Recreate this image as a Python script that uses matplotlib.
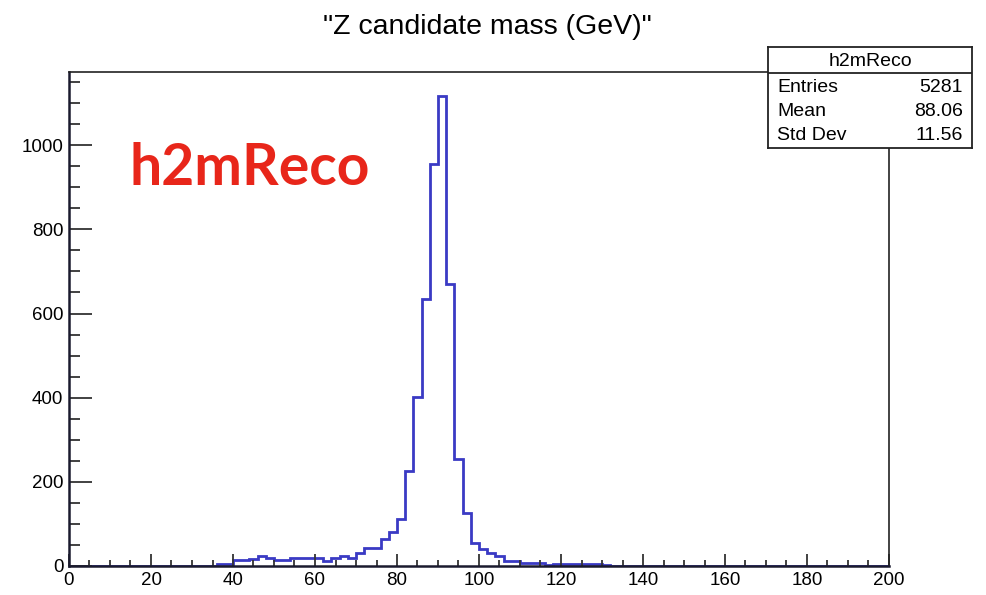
import numpy as np
import matplotlib.pyplot as plt

# bin edges: 100 bins of width 2 GeV from 0 to 200
edges = np.linspace(0, 200, 101)

# counts per bin (bins 36..134 GeV), everything else is empty
first_bin = 18
counts_nonzero = [
    5, 5, 14, 14, 16, 24, 20, 15, 15, 18,
    18, 18, 18, 13, 19, 24, 19, 32, 42, 42,
    64, 80, 111, 225, 402, 634, 955, 1118, 669, 255,
    125, 55, 40, 31, 24, 12, 12, 6, 8, 8,
    3, 5, 5, 4, 5, 5, 4, 2,
]
counts = np.zeros(100)
counts[first_bin:first_bin + len(counts_nonzero)] = counts_nonzero

title = '"Z candidate mass (GeV)"'
hist_name = "h2mReco"
stat_labels = ["Entries", "Mean", "Std Dev"]
stat_values = ["5281", "88.06", "11.56"]

plt.rcParams["font.family"] = ["Liberation Sans", "DejaVu Sans"]

fig = plt.figure(figsize=(9.87, 5.95), dpi=100)
ax = fig.add_axes([69 / 987, 1 - 566 / 595, 820 / 987, 494 / 595])

ax.stairs(counts, edges, color="#3a3ac4", linewidth=2.0)

ax.set_xlim(0, 200)
ax.set_ylim(0, 1.05 * counts.max())
ax.set_xticks(np.arange(0, 201, 20))
ax.set_xticks(np.arange(0, 201, 5), minor=True)
ax.set_yticks(np.arange(0, 1001, 200))
ax.set_yticks(np.arange(0, 1151, 50), minor=True)

ax.tick_params(axis="both", which="both", direction="in", labelsize=13.5, width=1.3, colors="#333333", labelcolor="black")
ax.tick_params(axis="x", which="major", length=8.5, top=False)
ax.tick_params(axis="x", which="minor", length=4.3)
ax.tick_params(axis="y", which="major", length=16.5, right=False)
ax.tick_params(axis="y", which="minor", length=8)
ax.tick_params(axis="x", pad=4)
ax.tick_params(axis="y", pad=4)

for side in ["left", "bottom"]:
    ax.spines[side].set_linewidth(1.8)
    ax.spines[side].set_color("#1a1a2e")
for side in ["top", "right"]:
    ax.spines[side].set_linewidth(1.2)
    ax.spines[side].set_color("#222222")

fig.text(487 / 987, 1 - 27 / 595, title, ha="center", va="center", fontsize=20.5)

ax.text(130 / 987, 1 - 185 / 595, hist_name, transform=fig.transFigure,
        fontsize=41, fontweight="bold", color="#e8261a", family="Lato",
        ha="left", va="baseline")

# stats box
box = fig.add_axes([768 / 987, 1 - 148 / 595, 204 / 987, 101 / 595], zorder=5)
box.set_xlim(0, 1)
box.set_ylim(0, 1)
box.set_xticks([])
box.set_yticks([])
for s in box.spines.values():
    s.set_linewidth(1.3)
    s.set_color("#222222")
sep = 1 - 26 / 101
box.axhline(sep, color="#222222", linewidth=1.3)
box.text(0.5, 1 - 14 / 101, hist_name, ha="center", va="center", fontsize=14)
row_y = [1 - 40 / 101, 1 - 65 / 101, 1 - 89 / 101]
for lab, val, yy in zip(stat_labels, stat_values, row_y):
    box.text(0.045, yy, lab, ha="left", va="center", fontsize=14)
    box.text(0.955, yy, val, ha="right", va="center", fontsize=14)

fig.savefig("out.png", dpi=100)
